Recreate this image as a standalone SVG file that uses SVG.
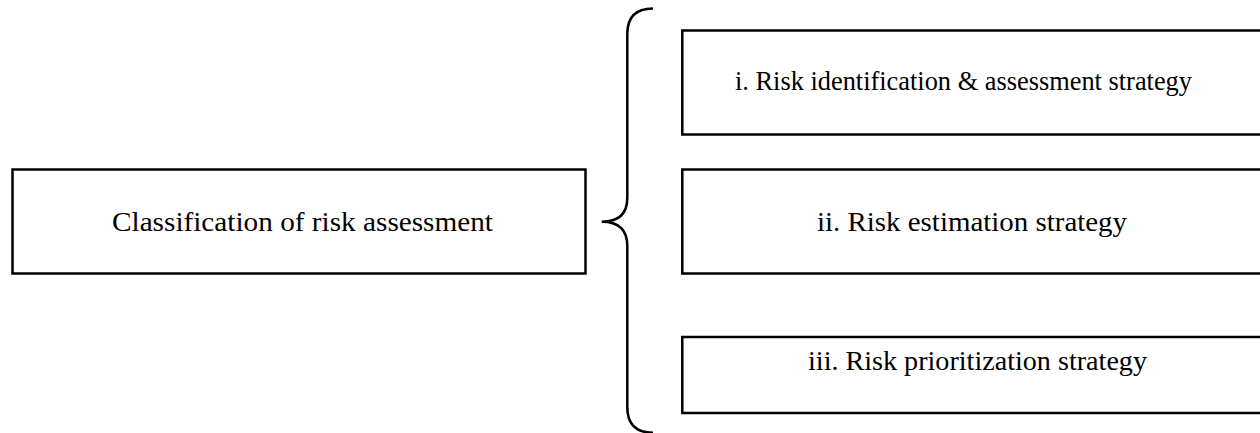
<svg xmlns="http://www.w3.org/2000/svg" width="1260" height="433" viewBox="0 0 1260 433">
<style>
.box{fill:#fff;stroke:#000;stroke-width:2.5}
.t{font-family:"Liberation Serif","Times New Roman",serif;font-size:28px;fill:#000}
.brace{fill:none;stroke:#000;stroke-width:2.5}
</style>
<rect width="1260" height="433" fill="#fff"/>
<g id="main">
<rect class="box" x="12.5" y="169.5" width="573" height="104"/>
<text class="t" x="112" y="231" textLength="381" lengthAdjust="spacingAndGlyphs">Classification of risk assessment</text>
</g>
<g id="connectors">
<path class="brace" d="M653,8.5 Q627.3,8.5 627.3,34 L627.3,198 Q627.3,221.7 601.7,221.7 Q627.3,221.7 627.3,246 L627.3,407 Q627.3,432.7 653,432.7"/>
</g>
<g id="item1">
<rect class="box" x="682.3" y="30.5" width="600" height="104"/>
<text class="t" x="735" y="90" textLength="457" lengthAdjust="spacingAndGlyphs">i. Risk identification &amp; assessment strategy</text>
</g>
<g id="item2">
<rect class="box" x="682.3" y="169.5" width="600" height="104"/>
<text class="t" x="817" y="231" textLength="310" lengthAdjust="spacingAndGlyphs">ii. Risk estimation strategy</text>
</g>
<g id="item3">
<rect class="box" x="682.3" y="337" width="600" height="76"/>
<text class="t" x="808" y="370" textLength="339" lengthAdjust="spacingAndGlyphs">iii. Risk prioritization strategy</text>
</g>
</svg>
